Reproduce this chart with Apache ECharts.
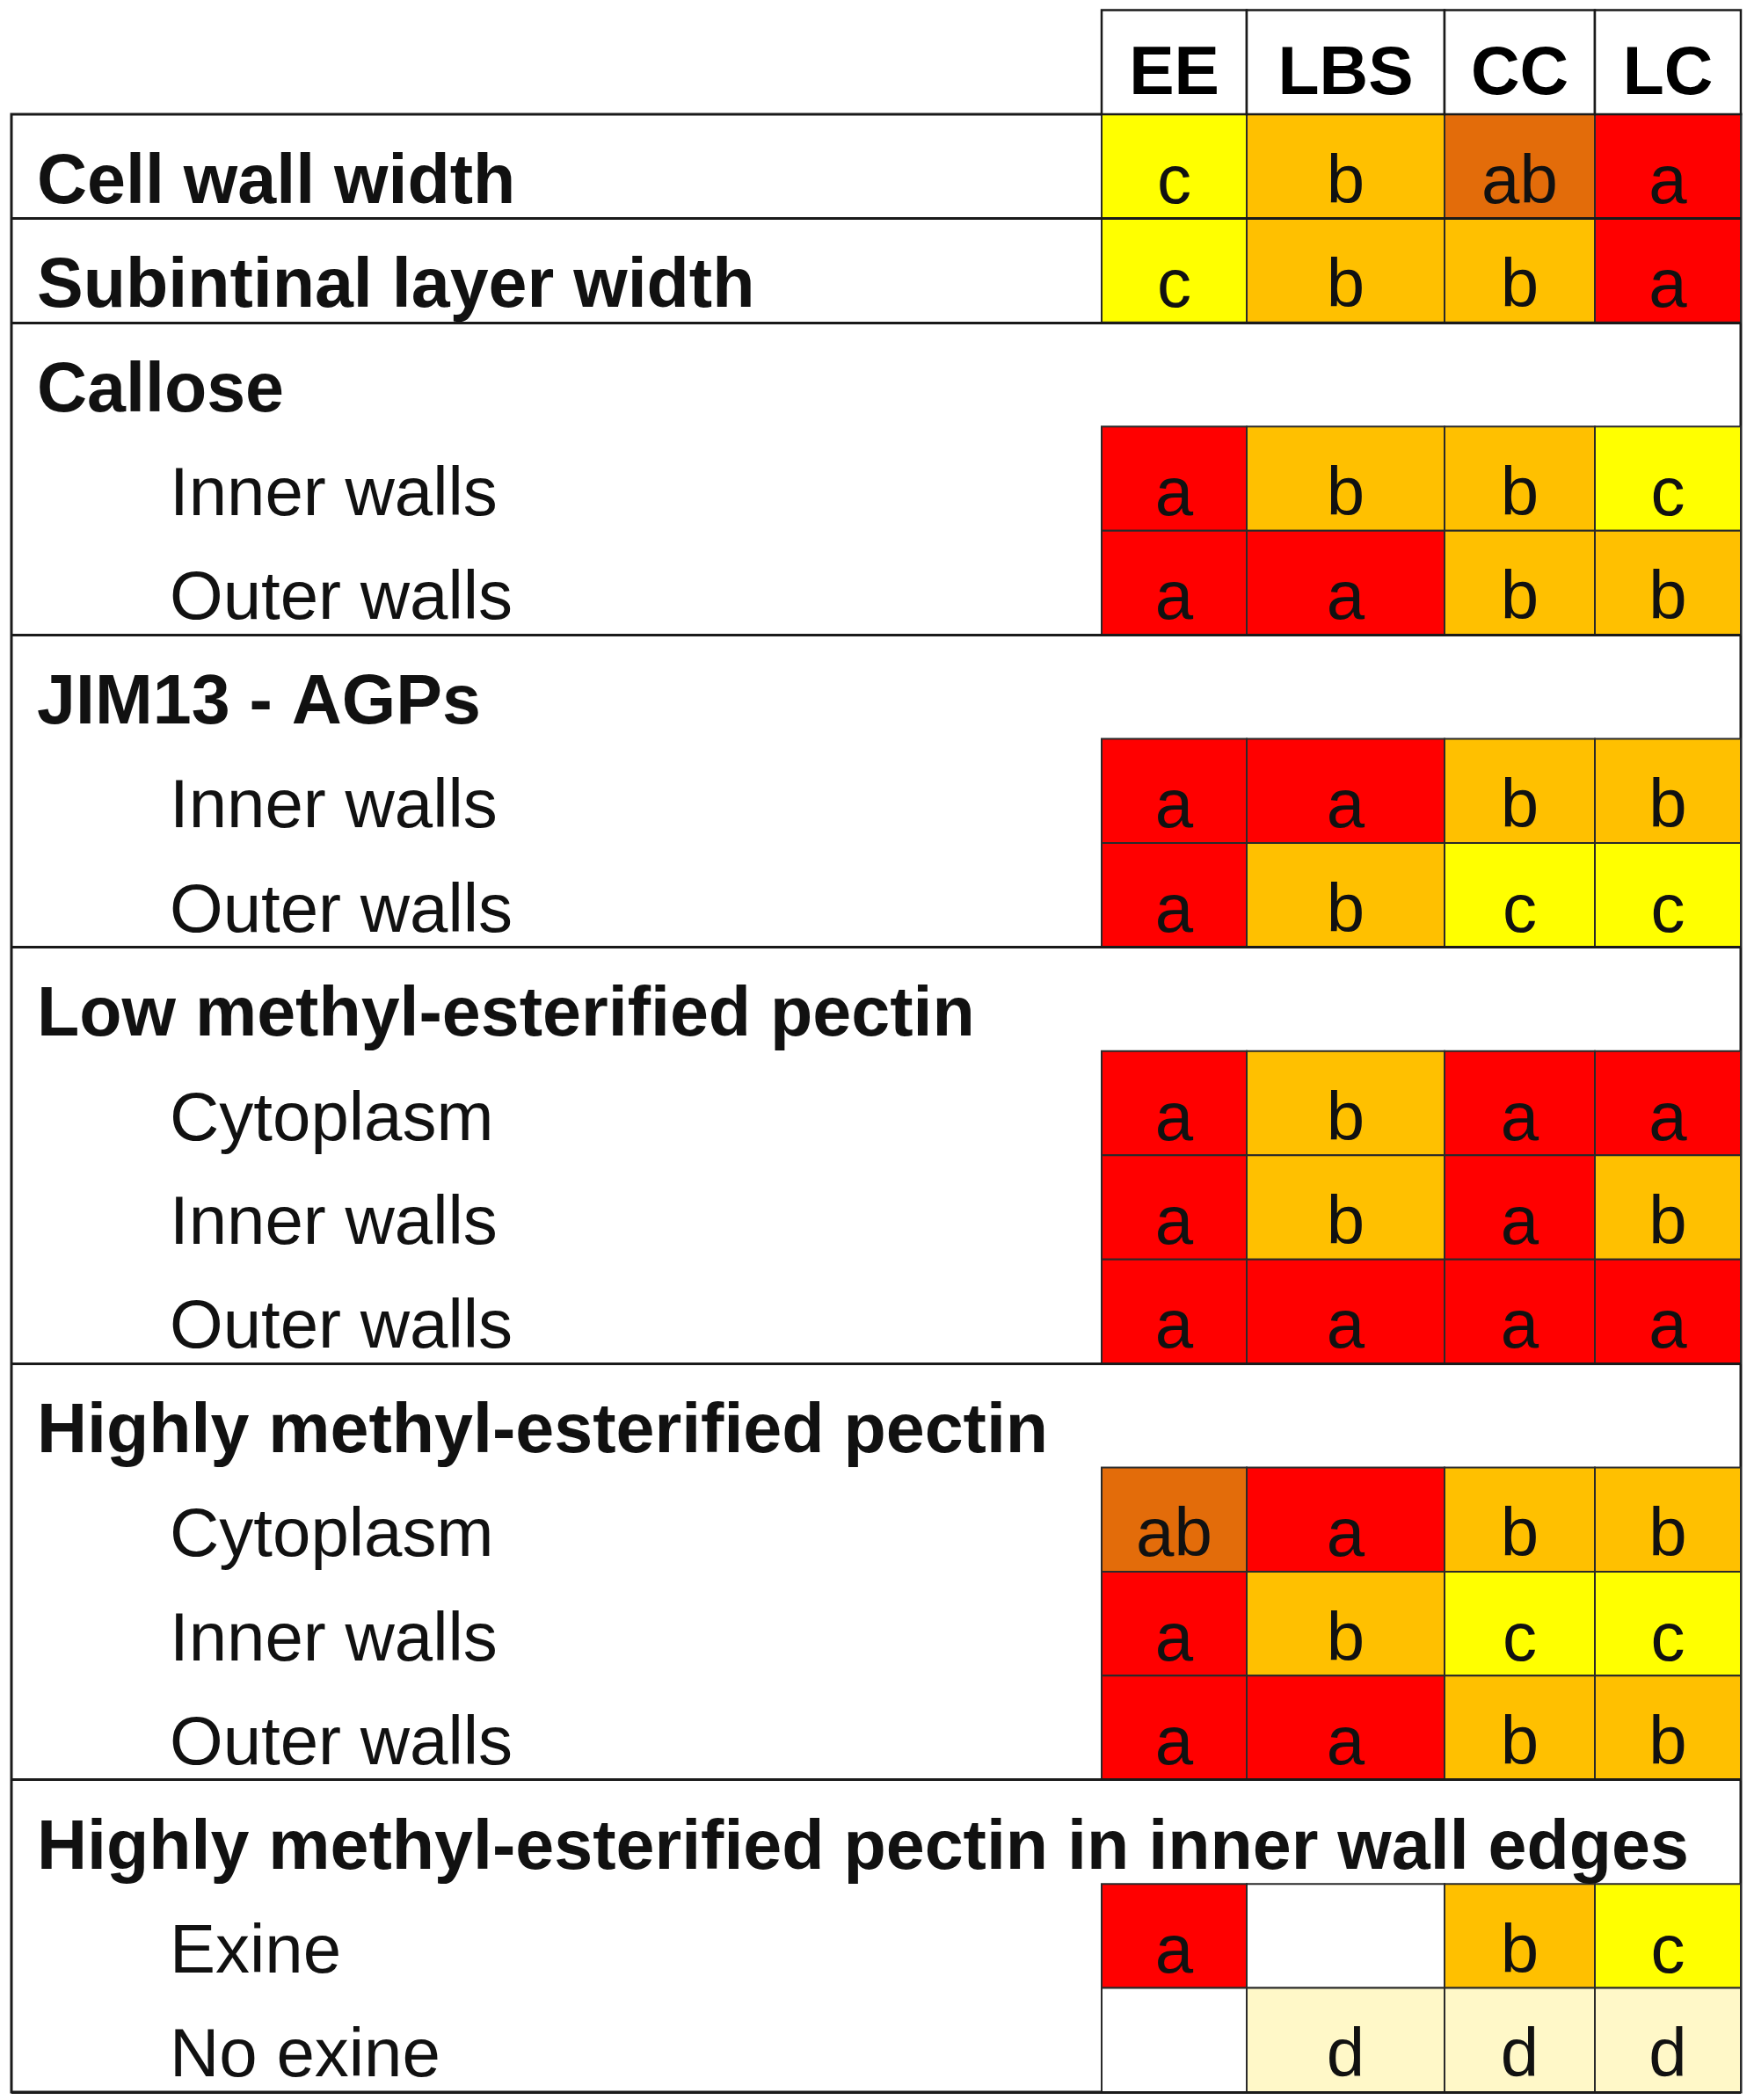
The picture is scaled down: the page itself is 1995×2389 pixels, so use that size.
<!DOCTYPE html>
<html>
<head>
<meta charset="utf-8">
<script src="https://cdn.jsdelivr.net/npm/echarts@6/dist/echarts.min.js"></script>
<style>
  html, body { margin: 0; padding: 0; background: #fff; }
  #main { width: 1995px; height: 2389px; }
</style>
</head>
<body>
<div id="main"></div>
<script>
// stages (columns)
var stages = ['EE', 'LBS', 'CC', 'LC'];

// row labels, top to bottom
var rowLabels = [
  'Cell wall width',
  'Subintinal layer width',
  'Callose',
  'Inner walls',
  'Outer walls',
  'JIM13 - AGPs',
  'Inner walls',
  'Outer walls',
  'Low methyl-esterified pectin',
  'Cytoplasm',
  'Inner walls',
  'Outer walls',
  'Highly methyl-esterified pectin',
  'Cytoplasm',
  'Inner walls',
  'Outer walls',
  'Highly methyl-esterified pectin in inner wall edges',
  'Exine',
  'No exine'
];
// 1 = group heading (bold), 0 = sub row (indented)
var rowIsHeading = [1, 1, 1, 0, 0, 1, 0, 0, 1, 0, 0, 0, 1, 0, 0, 0, 1, 0, 0];

// significance letters per stage (null = heading row without cells, '' = empty cell)
var gradesEE  = ['c', 'c', null, 'a', 'a', null, 'a', 'a', null, 'a', 'a', 'a', null, 'ab', 'a', 'a', null, 'a', ''];
var gradesLBS = ['b', 'b', null, 'b', 'a', null, 'a', 'b', null, 'b', 'b', 'a', null, 'a', 'b', 'a', null, '', 'd'];
var gradesCC  = ['ab', 'b', null, 'b', 'b', null, 'b', 'c', null, 'a', 'a', 'a', null, 'b', 'c', 'b', null, 'b', 'd'];
var gradesLC  = ['a', 'a', null, 'c', 'b', null, 'b', 'c', null, 'a', 'b', 'a', null, 'b', 'c', 'b', null, 'c', 'd'];

// layout (pixels along the x axis)
var LABEL_W = 1240;
var COL_W = [165, 225, 171, 166];

var gradeColor = {
  'a': '#FF0000',
  'ab': '#E36C0A',
  'b': '#FFC000',
  'c': '#FFFF00',
  'd': '#FFF8C8',
  '': '#FFFFFF'
};
var FONT = '"Liberation Sans", Arial, sans-serif';

var colStart = [];
var acc = LABEL_W;
for (var i = 0; i < COL_W.length; i++) { colStart.push(acc); acc += COL_W[i]; }
var totalW = acc;

var allGrades = [gradesEE, gradesLBS, gradesCC, gradesLC];
var cells = [];
allGrades.forEach(function (g, c) {
  g.forEach(function (v, r) {
    if (v !== null) cells.push([c, r, v]);
  });
});
var headerCells = stages.map(function (s, c) { return [c, 0, s]; });

function cellRect(api, c, r) {
  var p0 = api.coord([colStart[c], r]);
  var p1 = api.coord([colStart[c] + COL_W[c], r]);
  var h = api.size([0, 1])[1];
  return { x: p0[0], y: p0[1] - h / 2, width: p1[0] - p0[0], height: h };
}

var myChart = echarts.init(document.getElementById('main'));
var option = {
  backgroundColor: '#fff',
  animation: false,
  grid: {
    left: 13, right: 15, top: 130, bottom: 9,
    show: true, borderColor: '#1a1a1a', borderWidth: 3, backgroundColor: 'transparent'
  },
  xAxis: {
    type: 'value', min: 0, max: totalW, show: false
  },
  yAxis: {
    type: 'category',
    inverse: true,
    data: rowLabels,
    axisLine: { show: false },
    axisTick: { show: false },
    splitLine: {
      show: true,
      interval: function (index) {
        return index > 0 && rowIsHeading[index] === 1;
      },
      lineStyle: { color: '#1a1a1a', width: 3 }
    },
    axisLabel: {
      inside: true,
      interval: 0,
      margin: 29,
      padding: [40, 0, 0, 0],
      color: '#111',
      formatter: function (v, i) {
        return rowIsHeading[i] ? '{h|' + v + '}' : '{s|' + v + '}';
      },
      rich: {
        h: { fontFamily: FONT, fontWeight: 'bold', fontSize: 79, color: '#111' },
        s: { fontFamily: FONT, fontSize: 78, color: '#111', padding: [0, 0, 0, 151] }
      }
    },
    z: 5
  },
  series: [{
    type: 'custom',
    clip: false,
    data: cells,
    renderItem: function (params, api) {
      var c = api.value(0), r = api.value(1), g = cells[params.dataIndex][2];
      var rc = cellRect(api, c, r);
      return {
        type: 'group',
        children: [{
          type: 'rect',
          shape: rc,
          style: { fill: gradeColor[g], stroke: '#2a2a2a', lineWidth: 2 }
        }, {
          type: 'text',
          style: {
            text: g, x: rc.x + rc.width / 2, y: rc.y + rc.height / 2 + 20,
            align: 'center', verticalAlign: 'middle',
            font: '78px ' + FONT, fill: '#111'
          }
        }]
      };
    }
  }, {
    type: 'custom',
    clip: false,
    data: headerCells,
    renderItem: function (params, api) {
      var c = api.value(0);
      var rc = cellRect(api, c, 0);
      rc.y -= rc.height;
      return {
        type: 'group',
        children: [{
          type: 'rect',
          shape: rc,
          style: { fill: '#fff', stroke: '#1a1a1a', lineWidth: 2.5 }
        }, {
          type: 'text',
          style: {
            text: stages[c], x: rc.x + rc.width / 2, y: rc.y + rc.height / 2 + 15,
            align: 'center', verticalAlign: 'middle',
            font: 'bold 77px ' + FONT, fill: '#000'
          }
        }]
      };
    }
  }]
};
myChart.setOption(option);
</script>
</body>
</html>
